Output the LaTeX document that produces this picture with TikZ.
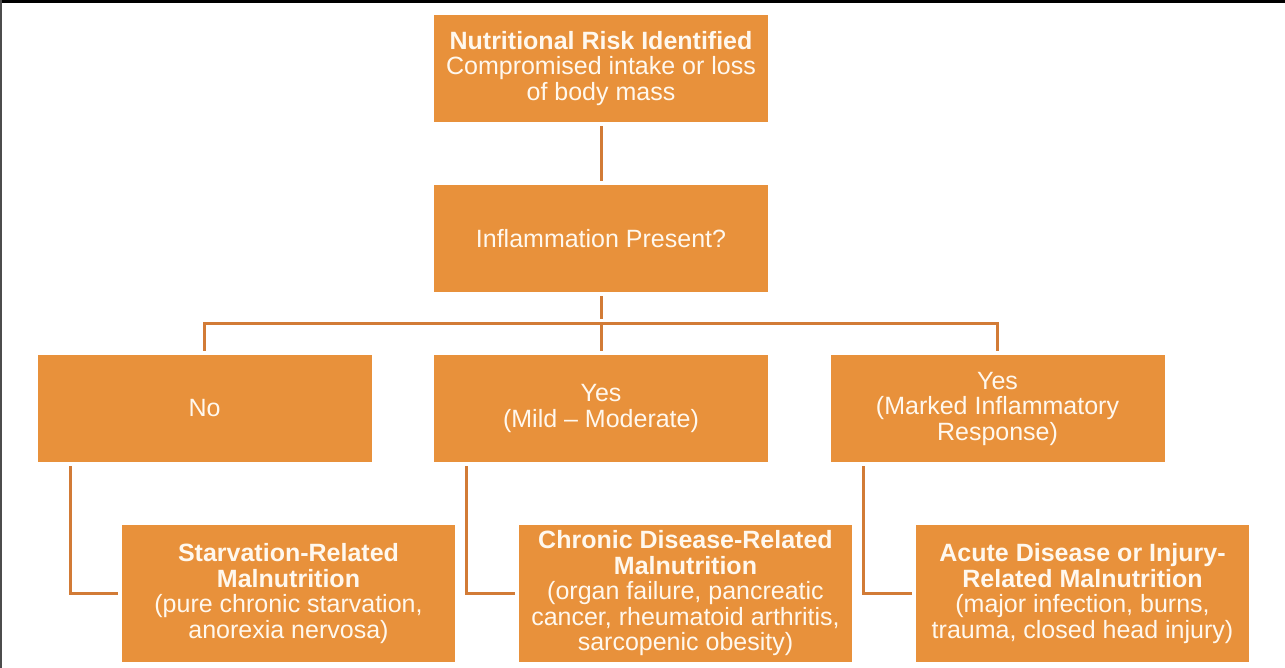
\documentclass[tikz,border=0pt]{standalone}
\usepackage{fontspec}
\setmainfont{Liberation Sans}
\definecolor{boxorange}{HTML}{E8913B}
\definecolor{lineorange}{HTML}{D27B36}
\definecolor{boxtext}{HTML}{FFF8EE}
\usetikzlibrary{calc,positioning}
\tikzset{
	riskbox/.style={
		rectangle,
		fill=boxorange,
		text=boxtext,
		minimum width=334pt,
		minimum height=107pt,
		inner sep=0pt,
		align=center,
		font=\fontsize{25}{25.5}\selectfont},
	typebox/.style={
		riskbox,
		minimum width=333pt,
		minimum height=137pt},
	link/.style={draw=lineorange, line width=3pt, shorten <=4pt, shorten >=4pt},
}

\begin{document}
\begin{tikzpicture}[x=1pt,y=-1pt]
\useasboundingbox (0,0) rectangle (1285,668);
\fill[black] (0,0) rectangle (1285,3);
\fill[black!70] (0,0) rectangle (1.5,668);

% decision levels
\node[riskbox] (risk) at (601,68.5) {\textbf{Nutritional Risk Identified}\\Compromised intake or loss\\of body mass};
\node[riskbox] (inflam) at (601,238.5) {Inflammation Present?};
\node[riskbox] (no) at (204.5,408.5) {No};
\node[riskbox] (mild) at (601,408.5) {Yes\\(Mild -- Moderate)};
\node[riskbox] (marked) at (997.5,408.5) {Yes\\(Marked Inflammatory\\Response)};

% diagnoses
\node[typebox] (starv) at (288.5,593.5) {\textbf{Starvation-Related}\\\textbf{Malnutrition}\\(pure chronic starvation,\\anorexia nervosa)};
\node[typebox] (chronic) at (685.5,593.5) {\textbf{Chronic Disease-Related}\\\textbf{Malnutrition}\\(organ failure, pancreatic\\cancer, rheumatoid arthritis,\\sarcopenic obesity)};
\node[typebox] (acute) at (1082.5,593.5) {\textbf{Acute Disease or Injury-}\\\textbf{Related Malnutrition}\\(major infection, burns,\\trauma, closed head injury)};

\draw[link] (risk) -- (inflam);
\coordinate (bus) at ($(inflam.south)+(0,31)$);
\draw[link, shorten <=0pt] (inflam.south) ++(0,4) -- (bus);
\draw[link] (no.north) |- (bus) -| (marked.north);
\draw[link, shorten <=0pt] (bus) -- (mild.north);

\draw[link] ($(no.south west)+(33,0)$) |- (starv.west);
\draw[link] ($(mild.south west)+(33,0)$) |- (chronic.west);
\draw[link] ($(marked.south west)+(33,0)$) |- (acute.west);
\end{tikzpicture}
\end{document}
